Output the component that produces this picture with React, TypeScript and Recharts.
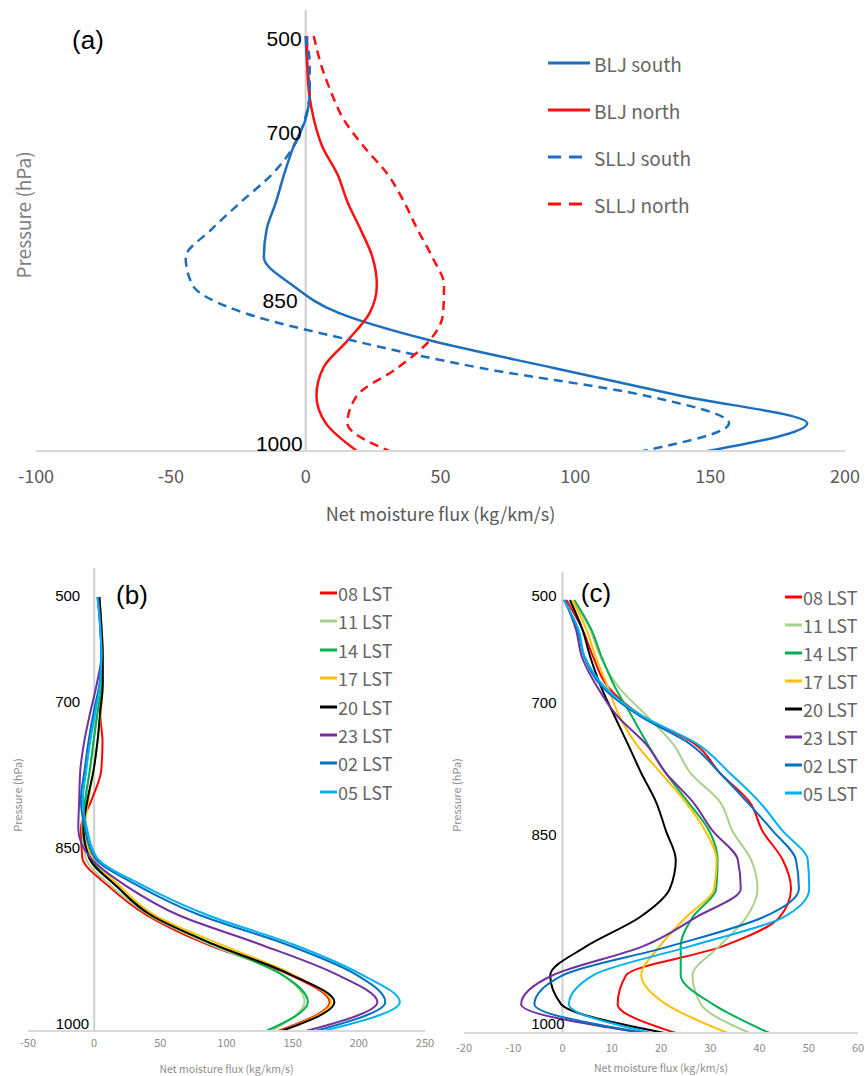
import React from 'react';
import { LineChart, Line, XAxis, YAxis, ReferenceLine, ReferenceDot } from 'recharts';

// pressure levels (hPa), top to bottom
const LEVELS = [500, 550, 600, 650, 700, 750, 775, 800, 825, 850, 875, 900, 925, 950, 975, 1000];

// (a) jet composites
const A_NAMES = ['BLJ south', 'BLJ north', 'SLLJ south', 'SLLJ north'];
const BLJ_SOUTH = [0, 0.5, 1.5, 0, -4.5, -8, -11, -14.5, -15.5, -5, 12, 46, 92, 139, 186, 149];
const BLJ_NORTH = [0.5, 0.6, 1.2, 3, 6.2, 11.8, 15.5, 20.4, 24.8, 26.4, 23.8, 15.6, 6.5, 4, 7.5, 19];
const SLLJ_SOUTH = [0, 1.5, 1.5, -0.3, -4.5, -12.5, -24, -35, -44.5, -42, -23, 17, 65, 126, 157, 125];
const SLLJ_NORTH = [3, 5.6, 9.3, 14, 21.6, 30.4, 36.5, 41.5, 47, 51.3, 51, 46, 34, 19, 15.5, 31];
const A_TICKS = [-100, -50, 0, 50, 100, 150, 200];

// (b) and (c) diurnal cycle
const LST_NAMES = ['08 LST', '11 LST', '14 LST', '17 LST', '20 LST', '23 LST', '02 LST', '05 LST'];
const B_08 = [3, 5, 5.5, 5.8, 4.5, 6.3, 5.3, -1.8, -10, -9, 11, 40, 85, 145, 178, 139];
const B_11 = [3.5, 5, 6, 5.8, 2.5, -0.5, -3.3, -6.5, -9, -6.5, 13, 42, 87, 140, 159, 134];
const B_14 = [3.5, 5, 6, 5.8, 2.5, -0.5, -3.3, -6.8, -8.5, -3, 17, 44, 90, 140, 161.5, 130];
const B_17 = [4, 5.5, 6.5, 6.5, 5, 2.5, -0.5, -4.3, -6.7, -1.5, 19.5, 46, 95, 148, 179, 141];
const B_20 = [4, 5.5, 6.5, 6.5, 4.5, 2.5, -0.5, -5, -8, -4, 17, 43, 90, 146, 181.5, 141.5];
const B_23 = [3, 4.5, 5.5, 2, -3, -7.5, -10.5, -11.3, -12, -3, 24.6, 64, 125, 181, 214, 160];
const B_02 = [2.5, 4.5, 5.5, 4, -0.5, -4.3, -7.3, -10, -7, 0.2, 34, 80, 145, 196, 220, 167];
const B_05 = [2.5, 4.5, 5.5, 4.5, 0.8, -3, -6, -8.5, -5.5, 1.9, 38, 86, 150, 200, 231, 173];
const B_TICKS = [-50, 0, 50, 100, 150, 200, 250];

const C_08 = [0.8, 4, 6.3, 9.2, 16, 27, 32, 38, 40.6, 44.7, 46.4, 44, 32.5, 12.9, 11.2, 23];
const C_11 = [2.2, 5.5, 7.8, 11.3, 17, 22.5, 26, 32, 34.5, 38.3, 39.6, 37.3, 31.8, 26.4, 28.1, 38];
const C_14 = [2.4, 5.8, 8, 10.6, 14, 17.3, 21, 25.5, 29.8, 31.5, 31.2, 26.4, 24, 24, 30.5, 42];
const C_17 = [2, 4.8, 6.8, 9.2, 11.5, 15, 20, 25, 29, 31.3, 30.8, 25, 19.7, 16, 21, 33.5];
const C_20 = [1.5, 4, 5.7, 7.8, 10.5, 13.3, 16, 19, 21, 23, 21.8, 15.6, 4.8, -2.5, -0.3, 20.7];
const C_23 = [0.5, 2.7, 4, 7, 11, 17, 21, 26.5, 30.5, 35.6, 36.2, 27, 16.3, -2, -8.4, 16.3];
const C_02 = [0.3, 3, 4.5, 8, 15.5, 26, 32, 37.5, 42.7, 47.4, 48, 40.6, 21.7, 0, -5.7, 16.6];
const C_05 = [0.3, 3.2, 4.6, 8.5, 16, 27.5, 34, 40, 44.7, 49.8, 50.1, 44.7, 25.8, 6.2, 1.3, 18];
const C_TICKS = [-20, -10, 0, 10, 20, 30, 40, 50, 60];

const LST_COLORS = ['#ff0000', '#a9d18e', '#00b050', '#ffc000', '#000000', '#7030a0', '#0070c0', '#00b0f0'];
const BLUE = '#1e6ebe';
const RED = '#ff1010';
const GREY_FONT = '"Noto Sans CJK SC", "Noto Sans", sans-serif';
const BLACK_FONT = '"Liberation Sans", Arial, sans-serif';
const X_TITLE = 'Net moisture flux (kg/km/s)';

type Series = { name: string; values: number[]; color: string; dash?: string };
type LevelLabel = { level: number; dx: number; dy: number };

const A_SERIES: Series[] = [
  { name: A_NAMES[0], values: BLJ_SOUTH, color: BLUE },
  { name: A_NAMES[1], values: BLJ_NORTH, color: RED },
  { name: A_NAMES[2], values: SLLJ_SOUTH, color: BLUE, dash: '9 6' },
  { name: A_NAMES[3], values: SLLJ_NORTH, color: RED, dash: '9 6' },
];
const B_VALUES = [B_08, B_11, B_14, B_17, B_20, B_23, B_02, B_05];
const C_VALUES = [C_08, C_11, C_14, C_17, C_20, C_23, C_02, C_05];
const B_SERIES: Series[] = LST_NAMES.map((name, k) => ({ name, values: B_VALUES[k], color: LST_COLORS[k] }));
const C_SERIES: Series[] = LST_NAMES.map((name, k) => ({ name, values: C_VALUES[k], color: LST_COLORS[k] }));

function Profile(props: any) {
  const { series } = props;
  const rows = LEVELS.map((level, i) => {
    const row: Record<string, number> = { level };
    series.forEach((s: Series, k: number) => {
      row[`s${k}`] = s.values[i];
    });
    return row;
  });

  return (
    <div style={{ position: 'absolute', left: props.left, top: props.top }}>
      <LineChart layout="vertical" width={props.width} height={props.height} data={rows} margin={props.margin}>
        <XAxis
          type="number"
          domain={props.domain}
          ticks={props.ticks}
          interval={0}
          tickLine={false}
          axisLine={{ stroke: '#d9d9d9', strokeWidth: 2 }}
          height={props.axisHeight}
          tickMargin={props.tickMargin}
          tick={{ fill: props.tickColor, fontSize: props.tickFont, fontFamily: GREY_FONT }}
          label={{
            value: X_TITLE,
            position: 'insideBottom',
            offset: props.titleOffset,
            fill: props.tickColor,
            fontSize: props.titleFont,
            fontFamily: GREY_FONT,
          }}
        />
        <YAxis type="category" dataKey="level" hide allowDuplicatedCategory={false} padding={{ top: props.padTop, bottom: 0 }} />
        <ReferenceLine x={0} stroke="#cfcfcf" strokeWidth={2} />
        {series.map((s: Series, k: number) => (
          <Line
            key={s.name}
            dataKey={`s${k}`}
            name={s.name}
            type="monotone"
            stroke={s.color}
            strokeWidth={props.strokeWidth}
            strokeDasharray={s.dash}
            dot={false}
            activeDot={false}
            isAnimationActive={false}
          />
        ))}
        {props.levelLabels.map((l: LevelLabel) => (
          <ReferenceDot
            key={l.level}
            x={0}
            y={l.level}
            r={0}
            shape={(p: any) => (
              <text
                x={p.cx + l.dx}
                y={p.cy + l.dy}
                textAnchor="end"
                dominantBaseline="central"
                fontSize={props.levelFont}
                fontFamily={BLACK_FONT}
                fill="#000"
              >
                {l.level}
              </text>
            )}
          />
        ))}
      </LineChart>
    </div>
  );
}

function LegendBox(props: any) {
  return (
    <div style={{ position: 'absolute', left: props.left, top: props.top }}>
      {props.series.map((s: Series, k: number) => (
        <div
          key={s.name}
          style={{ position: 'absolute', left: 0, top: k * props.gap, height: 0, display: 'flex', alignItems: 'center', whiteSpace: 'nowrap' }}
        >
          <svg width={props.lineLen} height={6} style={{ overflow: 'visible', marginRight: props.textGap }}>
            <line x1={0} y1={3} x2={props.lineLen} y2={3} stroke={s.color} strokeWidth={3} strokeDasharray={s.dash ? '13 8' : undefined} />
          </svg>
          <span style={{ fontFamily: GREY_FONT, fontSize: props.font, color: '#666' }}>{s.name}</span>
        </div>
      ))}
    </div>
  );
}

function Abs(props: any) {
  return (
    <div
      style={{
        position: 'absolute',
        left: props.x,
        top: props.y,
        transform: `translate(-50%, -50%)${props.rotate ? ' rotate(-90deg)' : ''}`,
        whiteSpace: 'nowrap',
        fontFamily: props.font,
        fontSize: props.size,
        color: props.color,
        lineHeight: 1,
      }}
    >
      {props.children}
    </div>
  );
}

export default function App() {
  return (
    <div style={{ position: 'absolute', left: 0, top: 0, width: 865, height: 1076, background: '#fff', overflow: 'hidden' }}>
      <Profile
        left={0}
        top={0}
        width={865}
        height={530}
        margin={{ top: 10, right: 20, left: 36, bottom: 0 }}
        axisHeight={79}
        padTop={26}
        domain={[-100, 200]}
        ticks={A_TICKS}
        tickColor="#595959"
        tickFont={18}
        tickMargin={13}
        titleFont={18}
        titleOffset={9}
        strokeWidth={2.5}
        series={A_SERIES}
        levelFont={21}
        levelLabels={[
          { level: 500, dx: -4, dy: 2 },
          { level: 700, dx: -4, dy: -14 },
          { level: 850, dx: -8, dy: 15 },
          { level: 1000, dx: -3, dy: -8 },
        ]}
      />
      <LegendBox left={548} top={63} gap={47} lineLen={42} textGap={4} font={19} series={A_SERIES} />
      <Abs x={88} y={40} size={26} font={BLACK_FONT} color="#000">(a)</Abs>
      <Abs x={22} y={215} size={19} font={GREY_FONT} color="#7f7f7f" rotate>Pressure (hPa)</Abs>

      <Profile
        left={0}
        top={555}
        width={445}
        height={521}
        margin={{ top: 13, right: 20, left: 28, bottom: 0 }}
        axisHeight={45}
        padTop={29}
        domain={[-50, 250]}
        ticks={B_TICKS}
        tickColor="#8c8c8c"
        tickFont={11}
        tickMargin={2}
        titleFont={10.5}
        titleOffset={3}
        strokeWidth={2}
        series={B_SERIES}
        levelFont={15}
        levelLabels={[
          { level: 500, dx: -14, dy: -2 },
          { level: 700, dx: -14, dy: -11 },
          { level: 850, dx: -14, dy: -10 },
          { level: 1000, dx: -5, dy: -8 },
        ]}
      />
      <LegendBox left={320} top={593} gap={28.4} lineLen={17} textGap={1} font={18} series={B_SERIES} />
      <Abs x={132} y={595} size={26} font={BLACK_FONT} color="#000">(b)</Abs>
      <Abs x={17} y={795} size={11} font={GREY_FONT} color="#8c8c8c" rotate>Pressure (hPa)</Abs>

      <Profile
        left={430}
        top={555}
        width={435}
        height={521}
        margin={{ top: 17, right: 7, left: 34, bottom: 0 }}
        axisHeight={43}
        padTop={28}
        domain={[-20, 60]}
        ticks={C_TICKS}
        tickColor="#8c8c8c"
        tickFont={11}
        tickMargin={5}
        titleFont={10.5}
        titleOffset={4}
        strokeWidth={2}
        series={C_SERIES}
        levelFont={15}
        levelLabels={[
          { level: 500, dx: -6, dy: -5 },
          { level: 700, dx: -6, dy: -13 },
          { level: 850, dx: -6, dy: -25 },
          { level: 1000, dx: 2, dy: -10 },
        ]}
      />
      <LegendBox left={785} top={597} gap={28} lineLen={17} textGap={1} font={18} series={C_SERIES} />
      <Abs x={596} y={593} size={26} font={BLACK_FONT} color="#000">(c)</Abs>
      <Abs x={456} y={795} size={11} font={GREY_FONT} color="#8c8c8c" rotate>Pressure (hPa)</Abs>
    </div>
  );
}
